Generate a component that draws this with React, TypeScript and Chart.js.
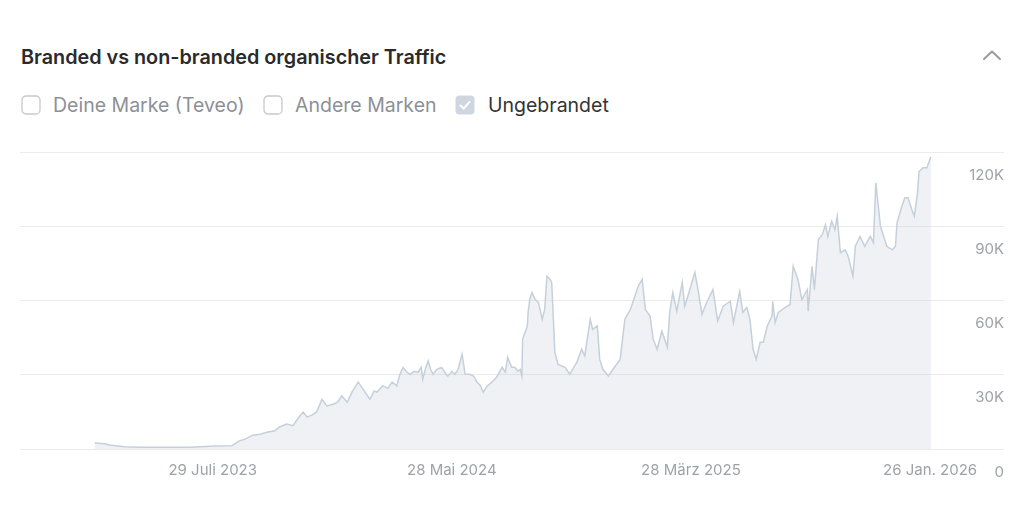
import React, { useEffect, useRef } from "react";
import { Chart, registerables } from "chart.js";

Chart.register(...registerables);

// Day offsets from the first data day (1 März 2023)
const dayOffsets = [
  0, 13, 19, 38, 57, 89, 121, 134, 153, 174, 181, 184, 191, 201, 210, 219, 229, 235, 244, 252,
  261, 265, 270, 276, 282, 289, 295, 303, 309, 314, 321, 327, 335, 341, 350, 355, 359, 366, 373, 378,
  384, 388, 392, 397, 401, 406, 411, 415, 417, 421, 424, 427, 430, 435, 441, 445, 449, 454, 458, 462,
  467, 471, 477, 482, 486, 490, 494, 499, 505, 511, 518, 522, 525, 530, 534, 538, 541, 543, 544, 550,
  551, 553, 556, 560, 564, 569, 572, 575, 579, 581, 585, 589, 598, 604, 609, 613, 619, 623, 630, 633,
  639, 642, 646, 653, 659, 668, 674, 681, 684, 691, 696, 700, 706, 710, 715, 721, 728, 731, 735, 740,
  747, 750, 754, 763, 767, 772, 778, 786, 792, 799, 808, 812, 820, 824, 829, 833, 837, 841, 846, 850,
  855, 861, 862, 865, 869, 878, 884, 888, 894, 899, 906, 907, 912, 915, 920, 925, 929, 932, 937, 941,
  944, 948, 954, 958, 964, 967, 973, 979, 986, 990, 993, 999, 1007, 1014, 1018, 1020, 1026, 1030, 1034, 1039,
  1042, 1046, 1048, 1053, 1058, 1063,
];

// Ungebrandet organic traffic
const ungebrandet = [
  2400, 2100, 1600, 900, 700, 700, 700, 900, 1200, 1300, 2700, 3300, 4000, 5600, 6000, 6800, 7400, 8900, 10100, 9400,
  13400, 14900, 12900, 13700, 14900, 20100, 17400, 18100, 18900, 21500, 18900, 23000, 27000, 24200, 20100, 23400, 23000, 25500, 24600, 27000,
  25500, 30200, 33000, 31000, 30200, 31400, 31000, 33000, 28200, 33000, 35600, 32200, 30200, 32200, 33000, 31000, 29500, 31400, 30200, 32200,
  38300, 30200, 30200, 29400, 27000, 25800, 23000, 25500, 27000, 29000, 33000, 31000, 37000, 33000, 33000, 31400, 32200, 29500, 44300, 49700,
  55200, 60400, 63200, 60400, 59200, 52400, 56400, 69800, 68500, 67300, 39100, 34200, 33000, 30200, 33000, 35000, 40300, 37600, 52400, 48300,
  49700, 36200, 32200, 29500, 32200, 36200, 52400, 56400, 59200, 65800, 68500, 56400, 53700, 44300, 40300, 47600, 41100, 55200, 63200, 55700,
  67300, 57700, 61700, 71300, 64400, 54400, 59200, 64400, 51700, 57700, 59700, 51100, 63700, 55200, 57200, 52400, 40300, 36200, 43100, 43100,
  49700, 53700, 59700, 51100, 55200, 57200, 58400, 73800, 68500, 60400, 64400, 55700, 73800, 64400, 84600, 86600, 90600, 85900, 92000, 88600,
  94000, 79300, 80500, 77800, 69800, 81900, 85900, 81900, 85900, 83400, 107500, 89900, 81900, 80500, 81900, 91400, 98000, 101500, 101500, 96600,
  94000, 103500, 112100, 113600, 113600, 118100,
];

const tickDays = [150, 454, 758, 1062];
const tickLabels = ["29 Juli 2023", "28 Mai 2024", "28 März 2025", "26 Jan. 2026"];
const yTicks = [0, 30000, 60000, 90000, 120000];
const yTickLabels = ["0", "30K", "60K", "90K", "120K"];
const legendItems = ["Deine Marke (Teveo)", "Andere Marken", "Ungebrandet"];
const legendChecked = [false, false, true];

const FONT = "Inter, 'Noto Sans', sans-serif";

function TrafficChart() {
  const ref = useRef<HTMLCanvasElement | null>(null);
  useEffect(() => {
    if (!ref.current) return;
    const chart = new Chart(ref.current, {
      type: "line",
      data: {
        datasets: [
          {
            label: legendItems[2],
            data: dayOffsets.map((d, i) => ({ x: d, y: ungebrandet[i] })),
            borderColor: "#c6d0db",
            borderWidth: 1.5,
            backgroundColor: "rgba(190,198,214,0.25)",
            fill: "origin",
            pointRadius: 0,
            tension: 0,
          },
        ],
      },
      options: {
        animation: false,
        responsive: false,
        maintainAspectRatio: false,
        layout: { padding: { left: 20, right: 20, top: 22, bottom: 9 } },
        plugins: { legend: { display: false }, tooltip: { enabled: false } },
        scales: {
          x: {
            type: "linear",
            min: -95,
            max: 1156,
            grid: { display: false, drawTicks: false },
            border: { display: false },
            afterBuildTicks: (axis: any) => {
              axis.ticks = tickDays.map((v) => ({ value: v }));
            },
            ticks: {
              autoSkip: false,
              maxRotation: 0,
              padding: 12,
              color: "#9ea2a8",
              font: { family: FONT, size: 15 },
              callback: (v: any) => {
                const idx = tickDays.indexOf(Number(v));
                return idx >= 0 ? tickLabels[idx] : "";
              },
            },
          },
          y: {
            position: "right",
            min: 0,
            max: 120000,
            grid: { color: "#ebebeb", drawTicks: false, lineWidth: 1 },
            border: { display: false },
            afterBuildTicks: (axis: any) => {
              axis.ticks = yTicks.map((v) => ({ value: v }));
            },
            ticks: {
              mirror: true,
              padding: 0,
              labelOffset: 23,
              color: "#9ea2a8",
              font: { family: FONT, size: 15 },
              callback: (v: any) => {
                const idx = yTicks.indexOf(Number(v));
                return idx >= 0 ? yTickLabels[idx] : "";
              },
            },
          },
        },
      },
    });
    return () => chart.destroy();
  }, []);
  return (
    <canvas
      ref={ref}
      width={1024}
      height={370}
      style={{ position: "absolute", left: 0, top: 130, width: 1024, height: 370 }}
    />
  );
}

function CheckBox({ checked }: { checked: boolean }) {
  return (
    <svg width="20" height="20" viewBox="0 0 20 20" style={{ display: "block" }}>
      {checked ? (
        <>
          <rect x="0.5" y="0.5" width="19" height="19" rx="4" fill="#cfd6e0" />
          <polyline points="5.5,10.5 8.7,13.5 14.5,6.8" fill="none" stroke="#ffffff" strokeWidth="2" strokeLinecap="round" strokeLinejoin="round" />
        </>
      ) : (
        <rect x="1" y="1" width="18" height="18" rx="4" fill="#ffffff" stroke="#c9c9c9" strokeWidth="1.3" />
      )}
    </svg>
  );
}

export default function App() {
  const legendLeft = [21, 263, 455];
  const textLeft = [53, 295, 488];
  return (
    <div
      style={{
        position: "fixed",
        left: 0,
        top: 0,
        width: 1024,
        height: 512,
        background: "#ffffff",
        fontFamily: FONT,
        overflow: "hidden",
      }}
    >
      <div
        style={{
          position: "absolute",
          left: 21,
          top: 44,
          fontSize: 19.8,
          lineHeight: "26px",
          fontWeight: 600,
          color: "#2a2a2a",
          whiteSpace: "nowrap",
        }}
      >
        Branded vs non-branded organischer Traffic
      </div>
      <svg
        width="24"
        height="16"
        viewBox="0 0 24 16"
        style={{ position: "absolute", left: 980, top: 47 }}
      >
        <polyline points="4,12 12,4.5 20,12" fill="none" stroke="#9b9b9b" strokeWidth="2" strokeLinecap="round" strokeLinejoin="round" />
      </svg>
      {legendItems.map((name, i) => (
        <React.Fragment key={name}>
          <div style={{ position: "absolute", left: legendLeft[i], top: 95 }}>
            <CheckBox checked={legendChecked[i]} />
          </div>
          <div
            style={{
              position: "absolute",
              left: textLeft[i],
              top: 92,
              fontSize: 19.5,
              lineHeight: "26px",
              color: legendChecked[i] ? "#333333" : "#8c9097",
              whiteSpace: "nowrap",
            }}
          >
            {name}
          </div>
        </React.Fragment>
      ))}
      <TrafficChart />
    </div>
  );
}
